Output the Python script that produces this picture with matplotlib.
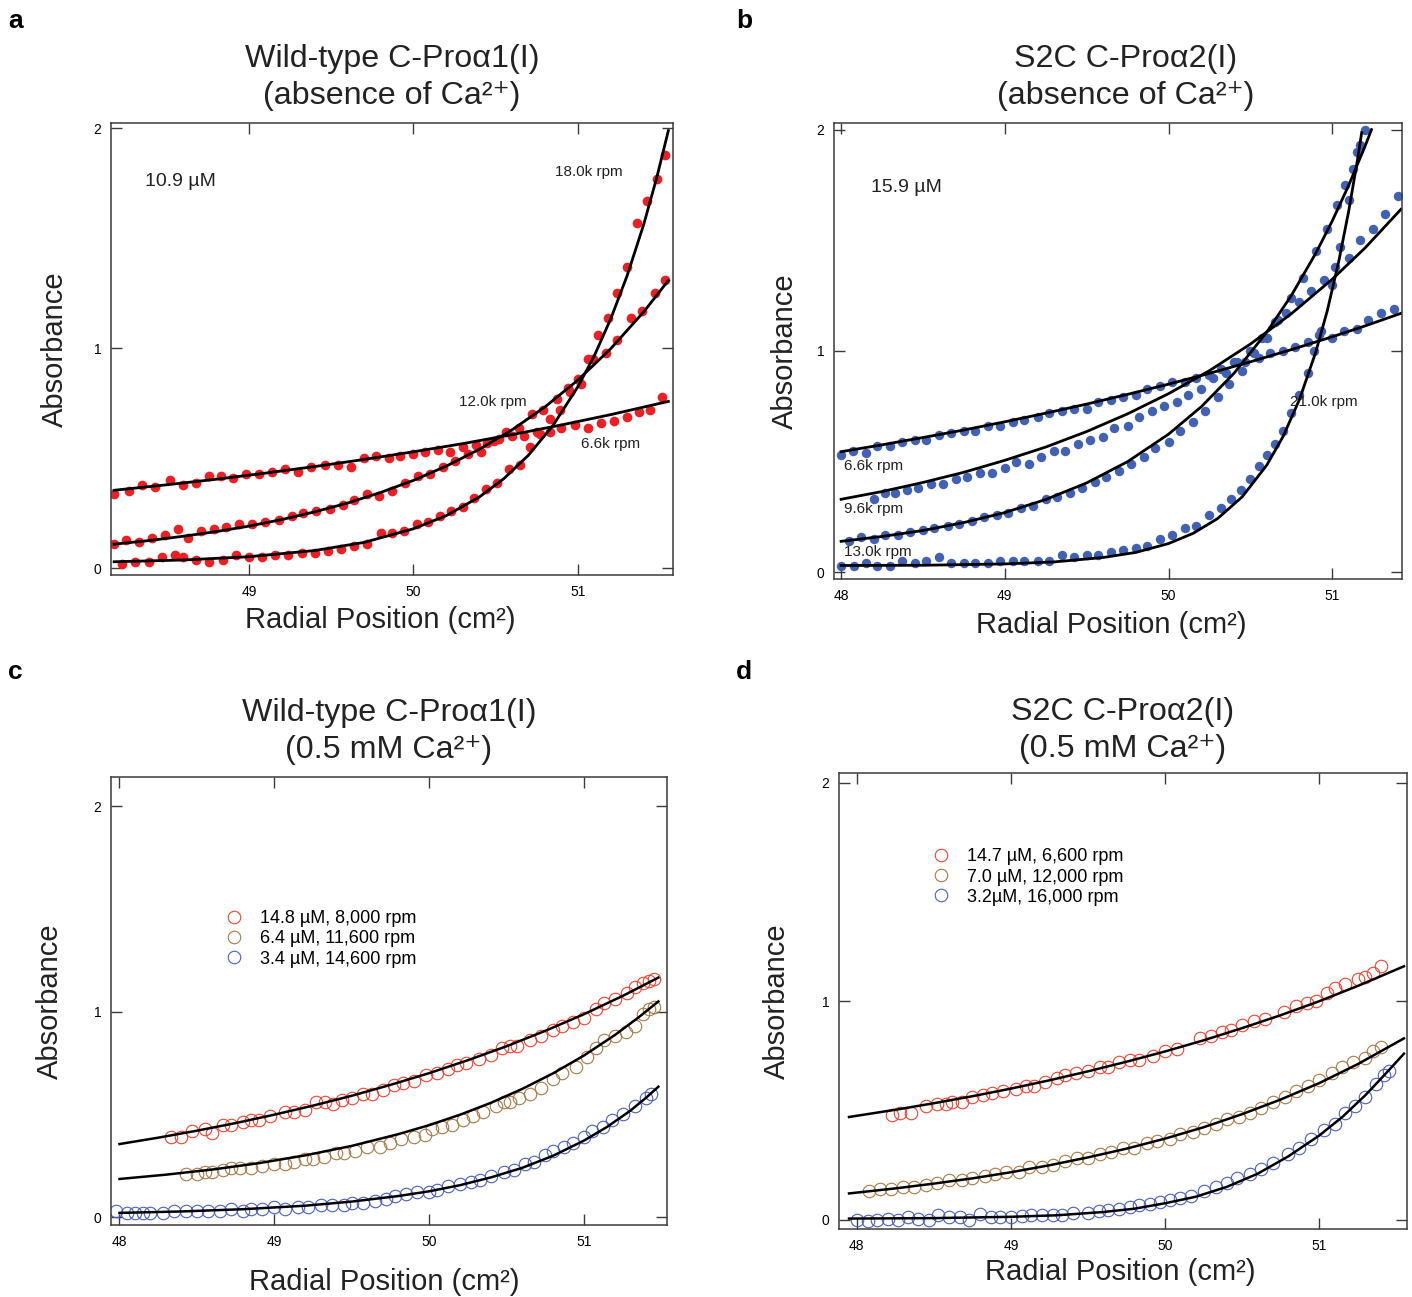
import matplotlib
matplotlib.use("Agg")
import matplotlib.pyplot as plt

plt.rcParams['font.family'] = ['Liberation Sans', 'DejaVu Sans']

# ---------------- panel a : wild-type, no Ca ----------------
a66_x = [48.18, 48.27, 48.35, 48.43, 48.52, 48.6, 48.68, 48.76, 48.83, 48.9, 48.98, 49.06, 49.14, 49.22,
         49.3, 49.38, 49.46, 49.54, 49.62, 49.7, 49.77, 49.85, 49.92, 50.0, 50.07, 50.15, 50.22, 50.3,
         50.38, 50.45, 50.52, 50.6, 50.67, 50.75, 50.83, 50.9, 50.98, 51.06, 51.14, 51.22, 51.3, 51.37,
         51.44, 51.51]
a66_y = [0.34, 0.35, 0.38, 0.37, 0.40, 0.38, 0.39, 0.42, 0.42, 0.41, 0.43, 0.43, 0.44, 0.45,
         0.44, 0.46, 0.47, 0.47, 0.46, 0.50, 0.51, 0.50, 0.51, 0.52, 0.53, 0.54, 0.53, 0.55,
         0.56, 0.57, 0.59, 0.60, 0.60, 0.62, 0.62, 0.64, 0.65, 0.64, 0.66, 0.67, 0.69, 0.71,
         0.72, 0.78]
a120_x = [48.18, 48.25, 48.33, 48.41, 48.49, 48.57, 48.63, 48.71, 48.79, 48.86, 48.94, 49.02, 49.1, 49.18,
          49.26, 49.33, 49.41, 49.49, 49.57, 49.64, 49.72, 49.79, 49.87, 49.95, 50.03, 50.1, 50.18, 50.25,
          50.33, 50.41, 50.49, 50.56, 50.64, 50.72, 50.79, 50.87, 50.94, 51.02, 51.09, 51.17, 51.24, 51.32,
          51.39, 51.47, 51.53]
a120_y = [0.11, 0.13, 0.12, 0.14, 0.15, 0.18, 0.14, 0.17, 0.18, 0.19, 0.20, 0.20, 0.21, 0.22,
          0.24, 0.25, 0.26, 0.27, 0.29, 0.31, 0.34, 0.33, 0.35, 0.39, 0.42, 0.43, 0.46, 0.49,
          0.52, 0.53, 0.58, 0.62, 0.64, 0.70, 0.72, 0.77, 0.82, 0.84, 0.95, 0.98, 1.04, 1.14,
          1.17, 1.25, 1.31]
a180_x = [48.23, 48.31, 48.39, 48.47, 48.55, 48.6, 48.68, 48.76, 48.84, 48.92, 49.0, 49.08, 49.16, 49.24,
          49.32, 49.4, 49.48, 49.56, 49.64, 49.72, 49.8, 49.87, 49.94, 50.02, 50.09, 50.16, 50.23, 50.3,
          50.37, 50.44, 50.51, 50.58, 50.65, 50.71, 50.77, 50.83, 50.89, 50.95, 51.0, 51.06, 51.12, 51.18,
          51.24, 51.3, 51.36, 51.42, 51.48, 51.53]
a180_y = [0.02, 0.03, 0.03, 0.05, 0.06, 0.05, 0.04, 0.03, 0.04, 0.06, 0.05, 0.05, 0.06, 0.06,
          0.07, 0.07, 0.08, 0.09, 0.10, 0.11, 0.16, 0.16, 0.17, 0.20, 0.21, 0.24, 0.26, 0.28,
          0.32, 0.36, 0.39, 0.45, 0.47, 0.55, 0.61, 0.68, 0.72, 0.80, 0.86, 0.95, 1.06, 1.14,
          1.25, 1.37, 1.57, 1.67, 1.77, 1.88]
# fitted curves
a66_fit_x = [48.18, 48.5, 48.8, 49.1, 49.4, 49.7, 50.0, 50.3, 50.6, 50.9, 51.2, 51.55]
a66_fit_y = [0.355, 0.380, 0.405, 0.433, 0.463, 0.495, 0.530, 0.567, 0.608, 0.652, 0.699, 0.759]
a120_fit_x = [48.18, 48.4, 48.6, 48.8, 49.0, 49.2, 49.4, 49.6, 49.8, 50.0, 50.2, 50.4, 50.6, 50.8,
              51.0, 51.2, 51.4, 51.55]
a120_fit_y = [0.110, 0.127, 0.146, 0.167, 0.192, 0.222, 0.257, 0.297, 0.345, 0.400, 0.465, 0.541,
              0.630, 0.734, 0.856, 0.999, 1.166, 1.309]
a180_fit_x = [48.18, 48.6, 49.0, 49.4, 49.7, 50.0, 50.2, 50.4, 50.55, 50.7, 50.85, 51.0, 51.1, 51.2,
              51.3, 51.4, 51.48, 51.55]
a180_fit_y = [0.030, 0.038, 0.053, 0.081, 0.118, 0.180, 0.240, 0.324, 0.408, 0.515, 0.651, 0.826,
              0.967, 1.135, 1.332, 1.563, 1.778, 1.990]

# ---------------- panel b : S2C, no Ca ----------------
b66_x = [48.0, 48.07, 48.15, 48.22, 48.3, 48.37, 48.45, 48.52, 48.6, 48.67, 48.75, 48.82, 48.9, 48.97,
         49.05, 49.12, 49.2, 49.27, 49.35, 49.42, 49.5, 49.57, 49.65, 49.72, 49.8, 49.87, 49.95, 50.02,
         50.1, 50.17, 50.25, 50.32, 50.4, 50.47, 50.55, 50.62, 50.7, 50.77, 50.85, 50.92, 51.0, 51.07,
         51.15, 51.22, 51.3, 51.38]
b66_y = [0.53, 0.55, 0.54, 0.57, 0.57, 0.59, 0.60, 0.60, 0.62, 0.63, 0.64, 0.64, 0.66, 0.66,
         0.68, 0.69, 0.70, 0.72, 0.73, 0.74, 0.74, 0.77, 0.78, 0.79, 0.80, 0.83, 0.84, 0.86,
         0.86, 0.88, 0.89, 0.92, 0.95, 0.95, 0.97, 0.99, 1.00, 1.02, 1.04, 1.07, 1.06, 1.09,
         1.10, 1.14, 1.17, 1.19]
b96_x = [48.2, 48.27, 48.33, 48.4, 48.47, 48.55, 48.62, 48.7, 48.77, 48.85, 48.92, 49.0, 49.07, 49.15,
         49.22, 49.3, 49.37, 49.45, 49.52, 49.6, 49.67, 49.75, 49.82, 49.9, 49.97, 50.05, 50.12, 50.2,
         50.27, 50.35, 50.42, 50.5, 50.57, 50.65, 50.72, 50.8, 50.87, 50.95, 51.02, 51.1, 51.17, 51.25,
         51.32, 51.4]
b96_y = [0.33, 0.36, 0.36, 0.37, 0.38, 0.40, 0.40, 0.42, 0.43, 0.45, 0.45, 0.47, 0.50, 0.49,
         0.52, 0.55, 0.55, 0.58, 0.60, 0.61, 0.65, 0.66, 0.70, 0.73, 0.75, 0.77, 0.80, 0.83,
         0.88, 0.90, 0.95, 1.00, 1.06, 1.13, 1.17, 1.22, 1.27, 1.32, 1.38, 1.42, 1.50, 1.55,
         1.62, 1.70]
b130_x = [48.05, 48.12, 48.2, 48.27, 48.35, 48.42, 48.5, 48.57, 48.65, 48.72, 48.8, 48.87, 48.95, 49.02,
          49.1, 49.17, 49.25, 49.32, 49.4, 49.47, 49.55, 49.62, 49.7, 49.77, 49.85, 49.92, 50.0, 50.07,
          50.15, 50.22, 50.3, 50.37, 50.45, 50.52, 50.6, 50.67, 50.75, 50.82, 50.9, 50.97, 51.03, 51.08,
          51.13, 51.17, 51.2]
b130_y = [0.14, 0.16, 0.15, 0.17, 0.17, 0.18, 0.19, 0.20, 0.21, 0.22, 0.23, 0.25, 0.26, 0.27,
          0.29, 0.30, 0.33, 0.34, 0.36, 0.38, 0.41, 0.43, 0.46, 0.49, 0.52, 0.56, 0.59, 0.64,
          0.68, 0.73, 0.79, 0.85, 0.91, 0.99, 1.06, 1.14, 1.24, 1.33, 1.45, 1.55, 1.66, 1.75,
          1.82, 1.93, 2.0]
b210_x = [48.0, 48.08, 48.15, 48.22, 48.3, 48.37, 48.45, 48.52, 48.6, 48.67, 48.75, 48.82, 48.9, 48.97,
          49.05, 49.12, 49.2, 49.27, 49.35, 49.42, 49.5, 49.57, 49.65, 49.72, 49.8, 49.87, 49.95, 50.02,
          50.1, 50.17, 50.25, 50.32, 50.38, 50.44, 50.5, 50.55, 50.6, 50.65, 50.7, 50.75, 50.8, 50.85,
          50.89, 50.93, 51.0, 51.05, 51.1, 51.15]
b210_y = [0.03, 0.03, 0.04, 0.03, 0.03, 0.05, 0.04, 0.05, 0.07, 0.04, 0.04, 0.04, 0.04, 0.05,
          0.05, 0.05, 0.05, 0.05, 0.08, 0.07, 0.08, 0.08, 0.09, 0.10, 0.11, 0.12, 0.15, 0.17,
          0.20, 0.21, 0.26, 0.29, 0.33, 0.37, 0.42, 0.48, 0.53, 0.58, 0.64, 0.72, 0.80, 0.90,
          1.00, 1.09, 1.30, 1.47, 1.68, 1.90]
b66_fit_x = [48.0, 48.25, 48.5, 48.75, 49.0, 49.25, 49.5, 49.75, 50.0, 50.25, 50.5, 50.75, 51.0,
             51.2, 51.42]
b66_fit_y = [0.545, 0.576, 0.609, 0.643, 0.680, 0.719, 0.760, 0.804, 0.850, 0.899, 0.951, 1.006,
             1.064, 1.113, 1.170]
b96_fit_x = [48.0, 48.25, 48.5, 48.75, 49.0, 49.25, 49.5, 49.75, 50.0, 50.25, 50.5, 50.75, 51.0,
             51.2, 51.42]
b96_fit_y = [0.330, 0.365, 0.406, 0.452, 0.506, 0.566, 0.636, 0.716, 0.807, 0.911, 1.031, 1.168,
             1.324, 1.465, 1.640]
b130_fit_x = [48.0, 48.25, 48.5, 48.75, 49.0, 49.25, 49.5, 49.75, 50.0, 50.2, 50.4, 50.6, 50.75,
              50.9, 51.0, 51.1, 51.2, 51.24]
b130_fit_y = [0.140, 0.162, 0.189, 0.225, 0.270, 0.329, 0.404, 0.500, 0.624, 0.748, 0.899, 1.085,
              1.250, 1.442, 1.587, 1.747, 1.924, 2.0]
b210_fit_x = [48.0, 48.5, 49.0, 49.3, 49.6, 49.8, 50.0, 50.15, 50.3, 50.45, 50.6, 50.7, 50.8, 50.9,
              50.97, 51.04, 51.1, 51.15, 51.18]
b210_fit_y = [0.031, 0.032, 0.038, 0.047, 0.067, 0.090, 0.130, 0.176, 0.243, 0.341, 0.484, 0.614,
              0.781, 0.996, 1.182, 1.405, 1.629, 1.844, 1.986]

# ---------------- panel c : wild-type, 0.5 mM Ca ----------------
c_red_x = [48.33, 48.4, 48.47, 48.55, 48.6, 48.67, 48.72, 48.8, 48.85, 48.9, 48.97, 49.07, 49.13, 49.2,
           49.27, 49.33, 49.38, 49.44, 49.5, 49.57, 49.63, 49.7, 49.77, 49.83, 49.9, 49.98, 50.05, 50.12,
           50.18, 50.24, 50.32, 50.4, 50.47, 50.52, 50.57, 50.65, 50.72, 50.8, 50.86, 50.93, 51.0, 51.08,
           51.13, 51.2, 51.28, 51.33, 51.38, 51.42, 51.45]
c_red_y = [0.39, 0.39, 0.42, 0.43, 0.41, 0.45, 0.45, 0.46, 0.47, 0.47, 0.49, 0.51, 0.51, 0.52,
           0.56, 0.56, 0.55, 0.57, 0.58, 0.60, 0.60, 0.62, 0.64, 0.65, 0.66, 0.69, 0.70, 0.72,
           0.74, 0.75, 0.77, 0.79, 0.82, 0.83, 0.83, 0.86, 0.88, 0.91, 0.93, 0.95, 0.97, 1.01,
           1.04, 1.06, 1.09, 1.12, 1.14, 1.15, 1.16]
c_brn_x = [48.43, 48.5, 48.55, 48.6, 48.67, 48.72, 48.78, 48.85, 48.92, 49.0, 49.07, 49.13, 49.2, 49.25,
           49.32, 49.4, 49.45, 49.52, 49.6, 49.68, 49.75, 49.82, 49.9, 49.97, 50.02, 50.08, 50.15, 50.22,
           50.28, 50.35, 50.43, 50.48, 50.52, 50.58, 50.65, 50.72, 50.8, 50.86, 50.95, 51.02, 51.08, 51.13,
           51.2, 51.27, 51.33, 51.38, 51.42, 51.45]
c_brn_y = [0.21, 0.21, 0.22, 0.22, 0.23, 0.24, 0.24, 0.24, 0.25, 0.26, 0.26, 0.27, 0.28, 0.28,
           0.29, 0.31, 0.31, 0.32, 0.34, 0.34, 0.36, 0.38, 0.39, 0.40, 0.43, 0.44, 0.45, 0.47,
           0.49, 0.51, 0.54, 0.56, 0.56, 0.58, 0.60, 0.63, 0.67, 0.70, 0.73, 0.78, 0.82, 0.86,
           0.88, 0.90, 0.93, 0.99, 1.01, 1.02]
c_blu_x = [47.98, 48.05, 48.1, 48.15, 48.2, 48.28, 48.35, 48.43, 48.5, 48.57, 48.65, 48.72, 48.8, 48.85,
           48.92, 49.0, 49.07, 49.15, 49.22, 49.3, 49.37, 49.45, 49.5, 49.57, 49.65, 49.72, 49.78, 49.85,
           49.92, 50.0, 50.05, 50.12, 50.2, 50.27, 50.33, 50.4, 50.48, 50.55, 50.62, 50.68, 50.75, 50.8,
           50.87, 50.93, 51.0, 51.05, 51.12, 51.18, 51.25, 51.33, 51.4, 51.43]
c_blu_y = [0.03, 0.02, 0.02, 0.02, 0.02, 0.02, 0.03, 0.03, 0.03, 0.03, 0.03, 0.04, 0.03, 0.04,
           0.04, 0.05, 0.04, 0.05, 0.05, 0.06, 0.06, 0.06, 0.07, 0.07, 0.08, 0.09, 0.10, 0.11,
           0.12, 0.12, 0.13, 0.15, 0.16, 0.17, 0.18, 0.20, 0.22, 0.23, 0.26, 0.27, 0.30, 0.32,
           0.34, 0.36, 0.39, 0.42, 0.44, 0.47, 0.50, 0.54, 0.58, 0.60]
c_red_fit_x = [48.0, 48.25, 48.5, 48.75, 49.0, 49.25, 49.5, 49.75, 50.0, 50.25, 50.5, 50.75, 51.0,
               51.25, 51.48]
c_red_fit_y = [0.355, 0.386, 0.420, 0.457, 0.498, 0.542, 0.590, 0.643, 0.700, 0.763, 0.831, 0.906,
               0.987, 1.076, 1.165]
c_brn_fit_x = [48.0, 48.3, 48.6, 48.9, 49.2, 49.5, 49.8, 50.0, 50.2, 50.4, 50.6, 50.8, 51.0, 51.2,
               51.35, 51.48]
c_brn_fit_y = [0.185, 0.206, 0.231, 0.262, 0.300, 0.346, 0.403, 0.447, 0.498, 0.556, 0.623, 0.699,
               0.786, 0.886, 0.970, 1.049]
c_blu_fit_x = [48.0, 48.4, 48.8, 49.2, 49.5, 49.8, 50.0, 50.2, 50.4, 50.6, 50.8, 51.0, 51.15, 51.3,
               51.4, 51.48]
c_blu_fit_y = [0.020, 0.027, 0.038, 0.055, 0.075, 0.102, 0.125, 0.155, 0.193, 0.239, 0.298, 0.372,
               0.439, 0.518, 0.580, 0.634]
c_labels = ['14.8 µM, 8,000 rpm', '6.4 µM, 11,600 rpm', '3.4 µM, 14,600 rpm']

# ---------------- panel d : S2C, 0.5 mM Ca ----------------
d_red_x = [48.23, 48.28, 48.35, 48.45, 48.52, 48.58, 48.62, 48.68, 48.75, 48.82, 48.88, 48.95, 49.03, 49.1,
           49.15, 49.22, 49.3, 49.35, 49.42, 49.5, 49.58, 49.63, 49.7, 49.77, 49.83, 49.92, 50.0, 50.08,
           50.23, 50.3, 50.37, 50.43, 50.5, 50.58, 50.65, 50.77, 50.85, 50.92, 50.98, 51.05, 51.1, 51.17,
           51.25, 51.3, 51.35, 51.4]
d_red_y = [0.48, 0.49, 0.49, 0.52, 0.53, 0.53, 0.54, 0.54, 0.56, 0.57, 0.58, 0.59, 0.60, 0.61,
           0.61, 0.63, 0.65, 0.66, 0.67, 0.68, 0.70, 0.70, 0.72, 0.73, 0.73, 0.75, 0.77, 0.78,
           0.83, 0.84, 0.86, 0.87, 0.89, 0.91, 0.92, 0.95, 0.98, 0.99, 1.00, 1.04, 1.06, 1.08,
           1.10, 1.11, 1.13, 1.16]
d_brn_x = [48.08, 48.15, 48.22, 48.3, 48.37, 48.45, 48.52, 48.6, 48.68, 48.75, 48.83, 48.9, 48.97, 49.05,
           49.12, 49.2, 49.27, 49.35, 49.43, 49.5, 49.58, 49.65, 49.73, 49.8, 49.88, 49.95, 50.03, 50.1,
           50.18, 50.25, 50.33, 50.4, 50.48, 50.55, 50.62, 50.7, 50.78, 50.85, 50.93, 51.0, 51.08, 51.15,
           51.22, 51.3, 51.35, 51.4]
d_brn_y = [0.13, 0.14, 0.14, 0.15, 0.15, 0.16, 0.17, 0.18, 0.18, 0.19, 0.20, 0.21, 0.22, 0.22,
           0.24, 0.24, 0.25, 0.27, 0.28, 0.28, 0.30, 0.31, 0.33, 0.33, 0.35, 0.36, 0.37, 0.39,
           0.40, 0.42, 0.44, 0.46, 0.47, 0.49, 0.51, 0.54, 0.56, 0.59, 0.61, 0.64, 0.67, 0.70,
           0.72, 0.74, 0.77, 0.79]
d_blu_x = [48.0, 48.07, 48.13, 48.2, 48.27, 48.33, 48.4, 48.47, 48.53, 48.6, 48.67, 48.73, 48.8, 48.87,
           48.93, 49.0, 49.07, 49.13, 49.2, 49.27, 49.33, 49.4, 49.5, 49.57, 49.63, 49.7, 49.77, 49.83,
           49.9, 49.97, 50.03, 50.1, 50.17, 50.25, 50.33, 50.4, 50.47, 50.55, 50.62, 50.7, 50.8, 50.87,
           50.95, 51.03, 51.1, 51.17, 51.23, 51.3, 51.37, 51.42, 51.45]
d_blu_y = [0.0, -0.005, 0.0, 0.005, 0.0, 0.01, 0.005, 0.0, 0.02, 0.01, 0.01, 0.0, 0.025, 0.01,
           0.01, 0.01, 0.015, 0.02, 0.02, 0.02, 0.02, 0.03, 0.03, 0.04, 0.045, 0.05, 0.06, 0.065,
           0.07, 0.08, 0.09, 0.10, 0.11, 0.13, 0.15, 0.17, 0.19, 0.21, 0.23, 0.26, 0.30, 0.33,
           0.37, 0.41, 0.44, 0.49, 0.52, 0.56, 0.62, 0.66, 0.68]
d_red_fit_x = [47.95, 48.25, 48.5, 48.75, 49.0, 49.25, 49.5, 49.75, 50.0, 50.25, 50.5, 50.75, 51.0,
               51.25, 51.55]
d_red_fit_y = [0.470, 0.503, 0.533, 0.565, 0.600, 0.638, 0.679, 0.723, 0.770, 0.821, 0.877, 0.936,
               1.000, 1.070, 1.160]
d_brn_fit_x = [47.95, 48.25, 48.5, 48.75, 49.0, 49.25, 49.5, 49.75, 50.0, 50.25, 50.5, 50.75, 51.0,
               51.25, 51.55]
d_brn_fit_y = [0.120, 0.143, 0.165, 0.189, 0.217, 0.249, 0.285, 0.325, 0.371, 0.423, 0.483, 0.550,
               0.625, 0.712, 0.830]
d_blu_fit_x = [47.95, 48.5, 49.0, 49.3, 49.6, 49.8, 50.0, 50.2, 50.4, 50.6, 50.8, 51.0, 51.15, 51.3,
               51.42, 51.55]
d_blu_fit_y = [0.005, 0.007, 0.013, 0.020, 0.035, 0.050, 0.075, 0.105, 0.150, 0.210, 0.290, 0.385,
               0.470, 0.570, 0.660, 0.760]
d_labels = ['14.7 µM, 6,600 rpm', '7.0 µM, 12,000 rpm', '3.2µM, 16,000 rpm']

RED = '#ec1f24'
BLUE = '#4161b3'
ORED = '#f0432f'
OBRN = '#a87a43'
OBLU = '#4a5ec4'
FRAME = '#3a3a3a'
TXT = '#222222'


def style(ax, xlim, ylim, xticks):
    ax.set_xlim(xlim)
    ax.set_ylim(ylim)
    ax.set_xticks(xticks)
    ax.set_yticks([0, 1, 2])
    ax.tick_params(direction='in', length=8, width=1.0, color=FRAME, labelsize=10,
                   top=True, right=True, pad=7)
    for s in ax.spines.values():
        s.set_color(FRAME)
        s.set_linewidth(1.1)
    ax.set_xlabel('Radial Position (cm²)', fontsize=21, color=TXT, va='center')
    ax.set_ylabel('Absorbance', fontsize=21, color=TXT, va='center')


fig = plt.figure(figsize=(14.12, 12.97), dpi=100)

# panel a
ax = fig.add_axes([0.0786, 0.5567, 0.398, 0.3485])
ax.plot(a66_x, a66_y, 'o', color=RED, ms=7, mec='none')
ax.plot(a120_x, a120_y, 'o', color=RED, ms=7, mec='none')
ax.plot(a180_x, a180_y, 'o', color=RED, ms=7, mec='none')
ax.plot(a66_fit_x, a66_fit_y, color='black', lw=2)
ax.plot(a120_fit_x, a120_fit_y, color='black', lw=2)
ax.plot(a180_fit_x, a180_fit_y, color='black', lw=2)
style(ax, (48.161, 51.578), (-0.03, 2.025), [49, 50, 51])
ax.xaxis.set_label_coords(0.48, -0.1)
ax.yaxis.set_label_coords(-0.0996, 0.5)
ax.set_title('Wild-type C-Proα1(I)\n(absence of Ca²⁺)', fontsize=23.2, pad=14, color=TXT,
             linespacing=1.3)
ax.text(48.37, 1.76, '10.9 µM', fontsize=14, va='center', color=TXT)
ax.text(50.86, 1.80, '18.0k rpm', fontsize=11, va='center', color=TXT)
ax.text(50.28, 0.755, '12.0k rpm', fontsize=11, va='center', color=TXT)
ax.text(51.02, 0.564, '6.6k rpm', fontsize=11, va='center', color=TXT)

# panel b
ax = fig.add_axes([0.5907, 0.5536, 0.4023, 0.3516])
for xs, ys in [(b66_x, b66_y), (b96_x, b96_y), (b130_x, b130_y), (b210_x, b210_y)]:
    ax.plot(xs, ys, 'o', color=BLUE, ms=6.8, mec='none')
for xs, ys in [(b66_fit_x, b66_fit_y), (b96_fit_x, b96_fit_y), (b130_fit_x, b130_fit_y),
               (b210_fit_x, b210_fit_y)]:
    ax.plot(xs, ys, color='black', lw=2)
style(ax, (47.957, 51.427), (-0.03, 2.03), [48, 49, 50, 51])
ax.xaxis.set_label_coords(0.488, -0.101)
ax.yaxis.set_label_coords(-0.0863, 0.5)
ax.set_title('S2C C-Proα2(I)\n(absence of Ca²⁺)', fontsize=23.2, pad=14, color=TXT,
             linespacing=1.3, x=0.514)
ax.text(48.18, 1.74, '15.9 µM', fontsize=14, va='center', color=TXT)
ax.text(48.02, 0.48, '6.6k rpm', fontsize=11, va='center', color=TXT)
ax.text(48.02, 0.285, '9.6k rpm', fontsize=11, va='center', color=TXT)
ax.text(48.02, 0.09, '13.0k rpm', fontsize=11, va='center', color=TXT)
ax.text(50.74, 0.77, '21.0k rpm', fontsize=11, va='center', color=TXT)

# panel c
ax = fig.add_axes([0.0786, 0.0555, 0.3938, 0.3454])
ax.plot(c_red_x, c_red_y, 'o', mfc='none', mec=ORED, ms=9, mew=0.8, label=c_labels[0])
ax.plot(c_brn_x, c_brn_y, 'o', mfc='none', mec=OBRN, ms=9, mew=0.8, label=c_labels[1])
ax.plot(c_blu_x, c_blu_y, 'o', mfc='none', mec=OBLU, ms=9, mew=0.8, label=c_labels[2])
ax.plot(c_red_fit_x, c_red_fit_y, color='black', lw=1.8)
ax.plot(c_brn_fit_x, c_brn_fit_y, color='black', lw=1.8)
ax.plot(c_blu_fit_x, c_blu_fit_y, color='black', lw=1.8)
style(ax, (47.945, 51.536), (-0.039, 2.141), [48, 49, 50, 51])
ax.xaxis.set_label_coords(0.491, -0.127)
ax.yaxis.set_label_coords(-0.1097, 0.5)
ax.set_title('Wild-type C-Proα1(I)\n(0.5 mM Ca²⁺)', fontsize=23.2, pad=14, color=TXT,
             linespacing=1.3)
ax.legend(loc='upper left', bbox_to_anchor=(0.205, 0.703), frameon=False, fontsize=13,
          handlelength=1.0, handletextpad=0.95, labelspacing=0.18, borderpad=0, borderaxespad=0)

# panel d
ax = fig.add_axes([0.5942, 0.0524, 0.4023, 0.3516])
ax.plot(d_red_x, d_red_y, 'o', mfc='none', mec=ORED, ms=9, mew=0.8, label=d_labels[0])
ax.plot(d_brn_x, d_brn_y, 'o', mfc='none', mec=OBRN, ms=9, mew=0.8, label=d_labels[1])
ax.plot(d_blu_x, d_blu_y, 'o', mfc='none', mec=OBLU, ms=9, mew=0.8, label=d_labels[2])
ax.plot(d_red_fit_x, d_red_fit_y, color='black', lw=1.8)
ax.plot(d_brn_fit_x, d_brn_fit_y, color='black', lw=1.8)
ax.plot(d_blu_fit_x, d_blu_fit_y, color='black', lw=1.8)
style(ax, (47.885, 51.57), (-0.043, 2.045), [48, 49, 50, 51])
ax.xaxis.set_label_coords(0.495, -0.094)
ax.yaxis.set_label_coords(-0.109, 0.5)
ax.set_title('S2C C-Proα2(I)\n(0.5 mM Ca²⁺)', fontsize=23.2, pad=11.5, color=TXT,
             linespacing=1.3)
ax.legend(loc='upper left', bbox_to_anchor=(0.164, 0.835), frameon=False, fontsize=13,
          handlelength=1.0, handletextpad=0.95, labelspacing=0.18, borderpad=0, borderaxespad=0)

# panel letters
for lx, ly, letter in [(0.011, 0.984, 'a'), (0.527, 0.984, 'b'), (0.011, 0.482, 'c'), (0.527, 0.482, 'd')]:
    fig.text(lx, ly, letter, fontsize=19, fontweight='bold', va='center', ha='center')

fig.savefig('out.png', dpi=100)
